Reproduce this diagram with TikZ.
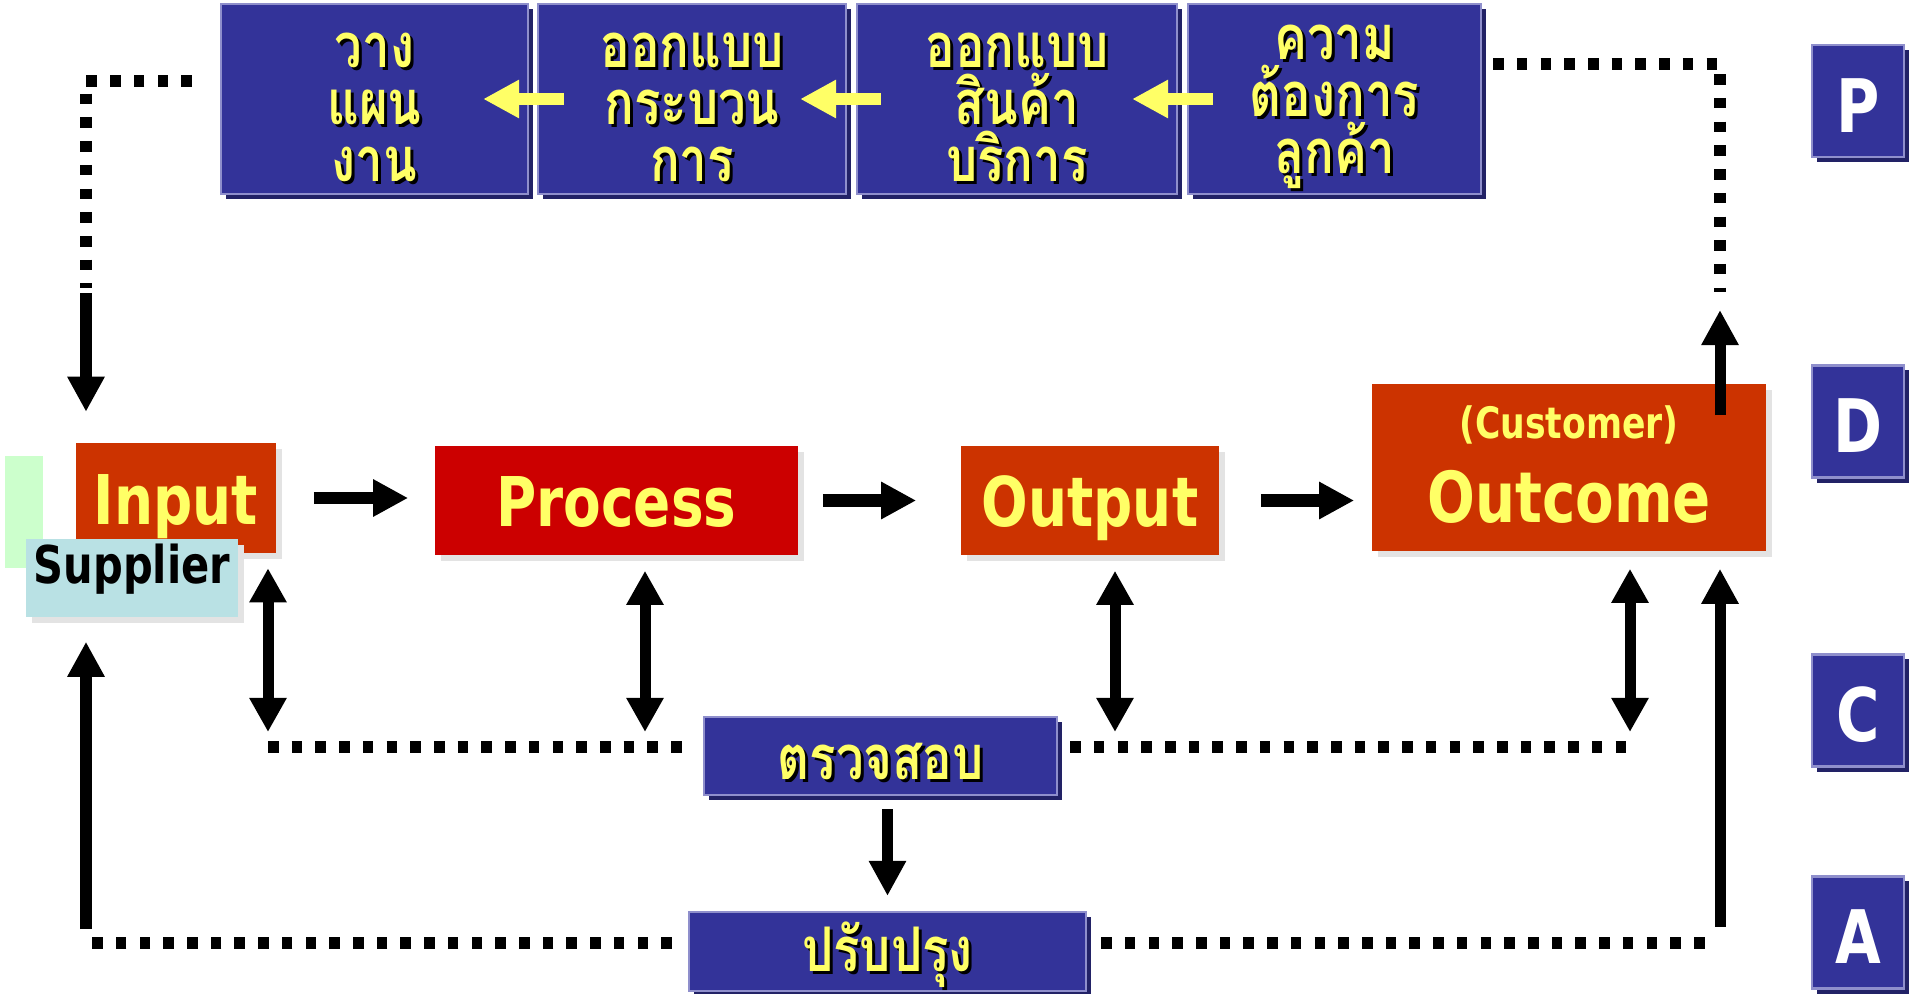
\documentclass[tikz,border=0pt]{standalone}
\usepackage{fontspec}
\usepackage{tikz}
\usetikzlibrary{arrows.meta,shadows}
\newfontfamily\latinfont[FakeStretch=0.8]{DejaVu Sans}
\newfontfamily\thaifont[Script=Thai,FakeStretch=0.8]{Loma}
\definecolor{pblue}{HTML}{333399}
\definecolor{pshade}{HTML}{222266}
\definecolor{plight}{HTML}{8F8FCC}
\definecolor{pyellow}{HTML}{FFFF66}
\definecolor{dorange}{HTML}{CC3300}
\definecolor{dred}{HTML}{CC0000}
\definecolor{sblue}{HTML}{B9E1E4}
\definecolor{sgreen}{HTML}{CCFFCC}
\definecolor{rshade}{HTML}{E3E3E3}

\begin{document}
\begin{tikzpicture}[x=0.01cm, y=-0.01cm,
  bluebox/.style={fill=pblue, draw=plight, line width=0.6pt, inner sep=0,
    drop shadow={shadow xshift=0.05cm, shadow yshift=-0.05cm, fill=pshade, opacity=1}},
  redbox/.style={inner sep=0, text=pyellow, font=\latinfont\bfseries\fontsize{19.5}{22}\selectfont,
    text height=0.52cm, text depth=0cm,
    drop shadow={shadow xshift=0.06cm, shadow yshift=-0.06cm, fill=rshade, opacity=1}},
  thai/.style={text=pyellow, font=\thaifont\bfseries\fontsize{17.5}{16.2}\selectfont, align=center, inner sep=0},
  thaishade/.style={thai, text=black},
  letter/.style={bluebox, minimum width=0.92cm, minimum height=1.12cm, text=white,
    font=\latinfont\bfseries\fontsize{21}{24}\selectfont, text height=0.62cm, text depth=0cm},
  arr/.style={line width=0.11cm, -{Triangle[length=0.35cm, width=0.35cm]}},
  dbl/.style={line width=0.11cm, {Triangle[length=0.34cm, width=0.35cm]}-{Triangle[length=0.34cm, width=0.35cm]}},
  yarr/.style={pyellow, line width=0.12cm, -{Triangle[length=0.36cm, width=0.36cm]}},
  dots/.style={line width=0.115cm, dash pattern=on 0.105cm off 0.132cm},
]
\useasboundingbox (0,0) rectangle (1927,994);

% P row
\foreach \nm/\cx/\bw/\txt in {plan/374.5/3.07/{วาง\\แผน\\งาน}, dproc/692/3.08/{ออกแบบ\\กระบวน\\การ},
    dprod/1017/3.20/{ออกแบบ\\สินค้า\\บริการ}, need/1334.5/2.93/{ความ\\ต้องการ\\ลูกค้า}} {
  \node[bluebox, minimum width=\bw cm, minimum height=1.90cm] (\nm) at (\cx,99) {};
  \node[thaishade] (\nm shade) at ([shift={(0.03cm,-0.11cm)}]\nm.center) {\txt};
  \node[thai] (\nm txt) at ([yshift=-0.08cm]\nm.center) {\txt};
}
\draw[yarr] ([xshift=0.26cm]need.west) -- ([xshift=-0.46cm]dprod.east);
\draw[yarr] ([xshift=0.25cm]dprod.west) -- ([xshift=-0.47cm]dproc.east);
\draw[yarr] ([xshift=0.27cm]dproc.west) -- ([xshift=-0.46cm]plan.east);

% D row
\node[fill=sgreen, minimum width=0.38cm, minimum height=1.12cm, inner sep=0] (green) at (24,512) {};
\node[redbox, fill=dorange, minimum width=2.00cm, minimum height=1.09cm] (input) at (176,498) {Input};
\node[redbox, fill=sblue, text=black, minimum width=2.12cm, minimum height=0.78cm,
  font=\latinfont\bfseries\fontsize{14.8}{16}\selectfont, text height=0.1cm] (supplier) at (132,578) {Supplier};
\node[redbox, fill=dred, minimum width=3.63cm, minimum height=1.09cm] (process) at (616.5,500.5) {Process};
\node[redbox, fill=dorange, minimum width=2.58cm, minimum height=1.09cm] (output) at (1090,500.5) {Output};
\node[redbox, fill=dorange, minimum width=3.94cm, minimum height=1.67cm] (outcome) at (1569,467.5) {};
\node[text=pyellow, font=\latinfont\bfseries\fontsize{20}{22}\selectfont, anchor=base, inner sep=0]
  (outcometxt) at ([yshift=-0.545cm]outcome.center) {Outcome};
\node[text=pyellow, font=\latinfont\bfseries\fontsize{12.3}{14}\selectfont, anchor=base, inner sep=0]
  (customer) at ([yshift=0.285cm]outcome.center) {(Customer)};
\draw[arr, line width=0.12cm, shorten <=0.37cm, shorten >=0.26cm] (input.east) -- (input.east -| process.west);
\draw[arr, line width=0.12cm, shorten <=0.24cm, shorten >=0.44cm] (process.east) -- (process.east -| output.west);
\draw[arr, line width=0.12cm, shorten <=0.41cm, shorten >=0.17cm] (output.east) -- (output.east -| outcome.west);

% C row
\node[bluebox, minimum width=3.53cm, minimum height=0.78cm] (check) at (880.5,756) {};
\node[thaishade] (checkshade) at ([shift={(0.03cm,-0.08cm)}]check.center) {ตรวจสอบ};
\node[thai] (checktxt) at ([yshift=-0.05cm]check.center) {ตรวจสอบ};
\coordinate (c1) at (268,747);
\coordinate (c2) at (645,747);
\coordinate (c3) at (1115,747);
\coordinate (c4) at (1630,747);
\draw[dots, shorten >=0.16cm] (c1) -- (c1 -| check.west);
\draw[dots, shorten <=0.12cm] (c4 -| check.east) -- (c4);
\draw[dbl, shorten <=0.15cm, shorten >=0.15cm] (c1 |- input.south) -- (c1);
\draw[dbl, shorten <=0.15cm, shorten >=0.15cm] (c2 |- process.south) -- (c2);
\draw[dbl, shorten <=0.15cm, shorten >=0.15cm] (c3 |- output.south) -- (c3);
\draw[dbl, shorten <=0.17cm, shorten >=0.15cm] (c4 |- outcome.south) -- (c4);

% A row
\node[bluebox, minimum width=3.97cm, minimum height=0.79cm] (improve) at (887.5,951.5) {};
\node[thaishade, anchor=base, text depth=0.08cm] (improveshade) at ([shift={(0.03cm,-0.225cm)}]improve.center) {ปรับปรุง};
\node[thai, anchor=base, text depth=0.08cm] (improvetxt) at ([yshift=-0.195cm]improve.center) {ปรับปรุง};
\draw[arr, shorten <=0.13cm, shorten >=0.15cm] (improve.north |- check.south) -- (improve.north);
\coordinate (a1) at (86,943);
\coordinate (a2) at (1720,943);
\draw[dots, shorten <=0.16cm] (improve.west |- a1) -- (a1);
\draw[dots, shorten <=0.14cm, shorten >=0.05cm] (improve.east |- a2) -- (a2);
\draw[arr, shorten <=0.14cm, shorten >=0.24cm] (a1) -- (a1 |- supplier.south);
\draw[arr, shorten <=0.16cm, shorten >=0.17cm] (a2) -- (a2 |- outcome.south);

% loop back to plan
\coordinate (p1) at (86,81);
\coordinate (p2) at (86,288);
\draw[dots, shorten <=0.28cm] (plan.west |- p1) -- (p1) -- (p2);
\draw[arr, shorten <=0.05cm, shorten >=0.31cm] (p2) -- (p2 |- input.north);
\coordinate (q1) at (1720,64);
\coordinate (q2) at (1720,292);
\coordinate (q3) at (1720,415);
\draw[dots, shorten <=0.11cm] (need.east |- q1) -- (q1) -- (q2);
\draw[arr, shorten >=0.18cm] (q3) -- (q2);

% PDCA letters
\foreach \l/\cy in {P/101, D/421.5, C/710.5, A/932.5} {
  \node[letter] (\l) at (1858,\cy) {\l};
}
\end{tikzpicture}
\end{document}
